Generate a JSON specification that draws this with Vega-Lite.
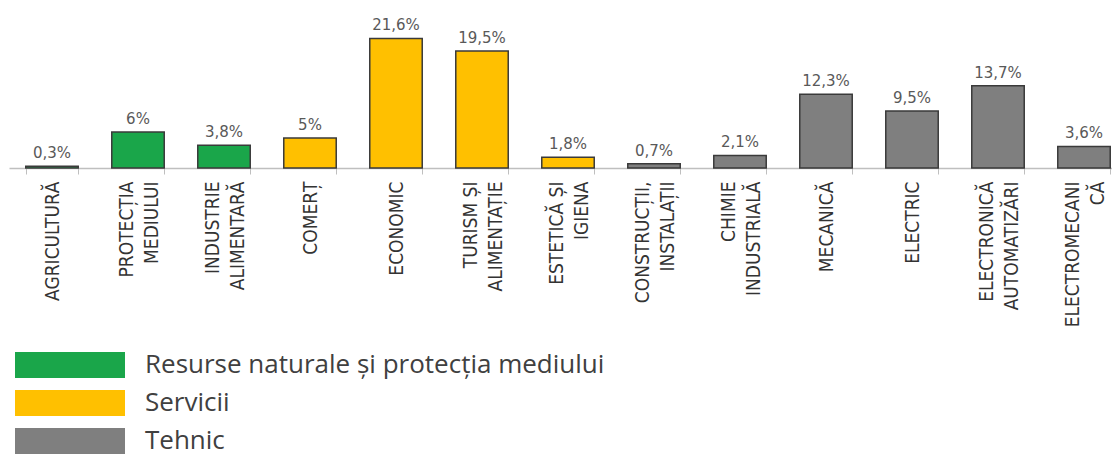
{
  "$schema": "https://vega.github.io/schema/vega-lite/v6.json",
  "width": 1103,
  "height": 168,
  "autosize": {"type": "none"},
  "padding": {"left": 9, "top": 0, "right": 0, "bottom": 287},
  "background": "white",
  "config": {"view": {"stroke": null}},
  "data": {"values": [
    {"cat": "AGRICULTURĂ", "pct": 0.3, "label": "0,3%", "grp": "Resurse naturale și protecția mediului"},
    {"cat": "PROTECȚIA|MEDIULUI", "pct": 6, "label": "6%", "grp": "Resurse naturale și protecția mediului"},
    {"cat": "INDUSTRIE|ALIMENTARĂ", "pct": 3.8, "label": "3,8%", "grp": "Resurse naturale și protecția mediului"},
    {"cat": "COMERȚ", "pct": 5, "label": "5%", "grp": "Servicii"},
    {"cat": "ECONOMIC", "pct": 21.6, "label": "21,6%", "grp": "Servicii"},
    {"cat": "TURISM ȘI|ALIMENTAȚIE", "pct": 19.5, "label": "19,5%", "grp": "Servicii"},
    {"cat": "ESTETICĂ ȘI|IGIENA", "pct": 1.8, "label": "1,8%", "grp": "Servicii"},
    {"cat": "CONSTRUCȚII,|INSTALAȚII", "pct": 0.7, "label": "0,7%", "grp": "Tehnic"},
    {"cat": "CHIMIE|INDUSTRIALĂ", "pct": 2.1, "label": "2,1%", "grp": "Tehnic"},
    {"cat": "MECANICĂ", "pct": 12.3, "label": "12,3%", "grp": "Tehnic"},
    {"cat": "ELECTRIC", "pct": 9.5, "label": "9,5%", "grp": "Tehnic"},
    {"cat": "ELECTRONICĂ|AUTOMATIZĂRI", "pct": 13.7, "label": "13,7%", "grp": "Tehnic"},
    {"cat": "ELECTROMECANI|CĂ", "pct": 3.6, "label": "3,6%", "grp": "Tehnic"}
  ]},
  "encoding": {
    "x": {
      "field": "cat", "type": "nominal", "sort": null,
      "scale": {"paddingInner": 0.39, "paddingOuter": 0.195, "range": [0, 1118]},
      "axis": {
        "title": null,
        "labelExpr": "datum.value ? split(datum.value, '|') : ''",
        "labelAngle": -90,
        "labelAlign": "right",
        "labelBaseline": "middle",
        "labelOffset": {"condition": {"test": "datum.value && indexof(datum.value, '|') >= 0", "value": -12}, "value": 0},
        "labelFont": "Liberation Sans Narrow, DejaVu Sans Condensed, sans-serif",
        "labelFontSize": 19,
        "labelLineHeight": 25,
        "labelColor": "#333333",
        "labelPadding": 7,
        "labelLimit": 200,
        "domainColor": "#bfbfbf",
        "domainWidth": 1.5,
        "tickColor": "#bfbfbf",
        "tickBand": "extent",
        "tickSize": 6,
        "labelOverlap": false
      }
    },
    "y": {
      "field": "pct", "type": "quantitative",
      "scale": {"domain": [0, 28]},
      "axis": null
    }
  },
  "layer": [
    {
      "mark": {"type": "bar", "stroke": "#3a3a3a", "strokeWidth": 1.5},
      "encoding": {
        "fill": {
          "field": "grp", "type": "nominal",
          "scale": {
            "domain": ["Resurse naturale și protecția mediului", "Servicii", "Tehnic"],
            "range": ["#1aa64a", "#ffc000", "#7f7f7f"]
          },
          "legend": {
            "title": null,
            "orient": "none",
            "legendX": 6,
            "legendY": 352,
            "padding": 0,
            "symbolType": "M-1,-0.236H1V0.236H-1Z",
            "symbolSize": 12100,
            "symbolStrokeWidth": 0,
            "symbolOpacity": 1,
            "clipHeight": 26,
            "rowPadding": 12,
            "labelOffset": 20,
            "labelFont": "Open Sans",
            "labelFontSize": 26,
            "labelColor": "#404040",
            "labelLimit": 700
          }
        }
      }
    },
    {
      "mark": {"type": "text", "baseline": "bottom", "dy": -5, "font": "DejaVu Sans", "fontSize": 15, "fill": "#595959"},
      "encoding": {"text": {"field": "label"}}
    }
  ]
}
